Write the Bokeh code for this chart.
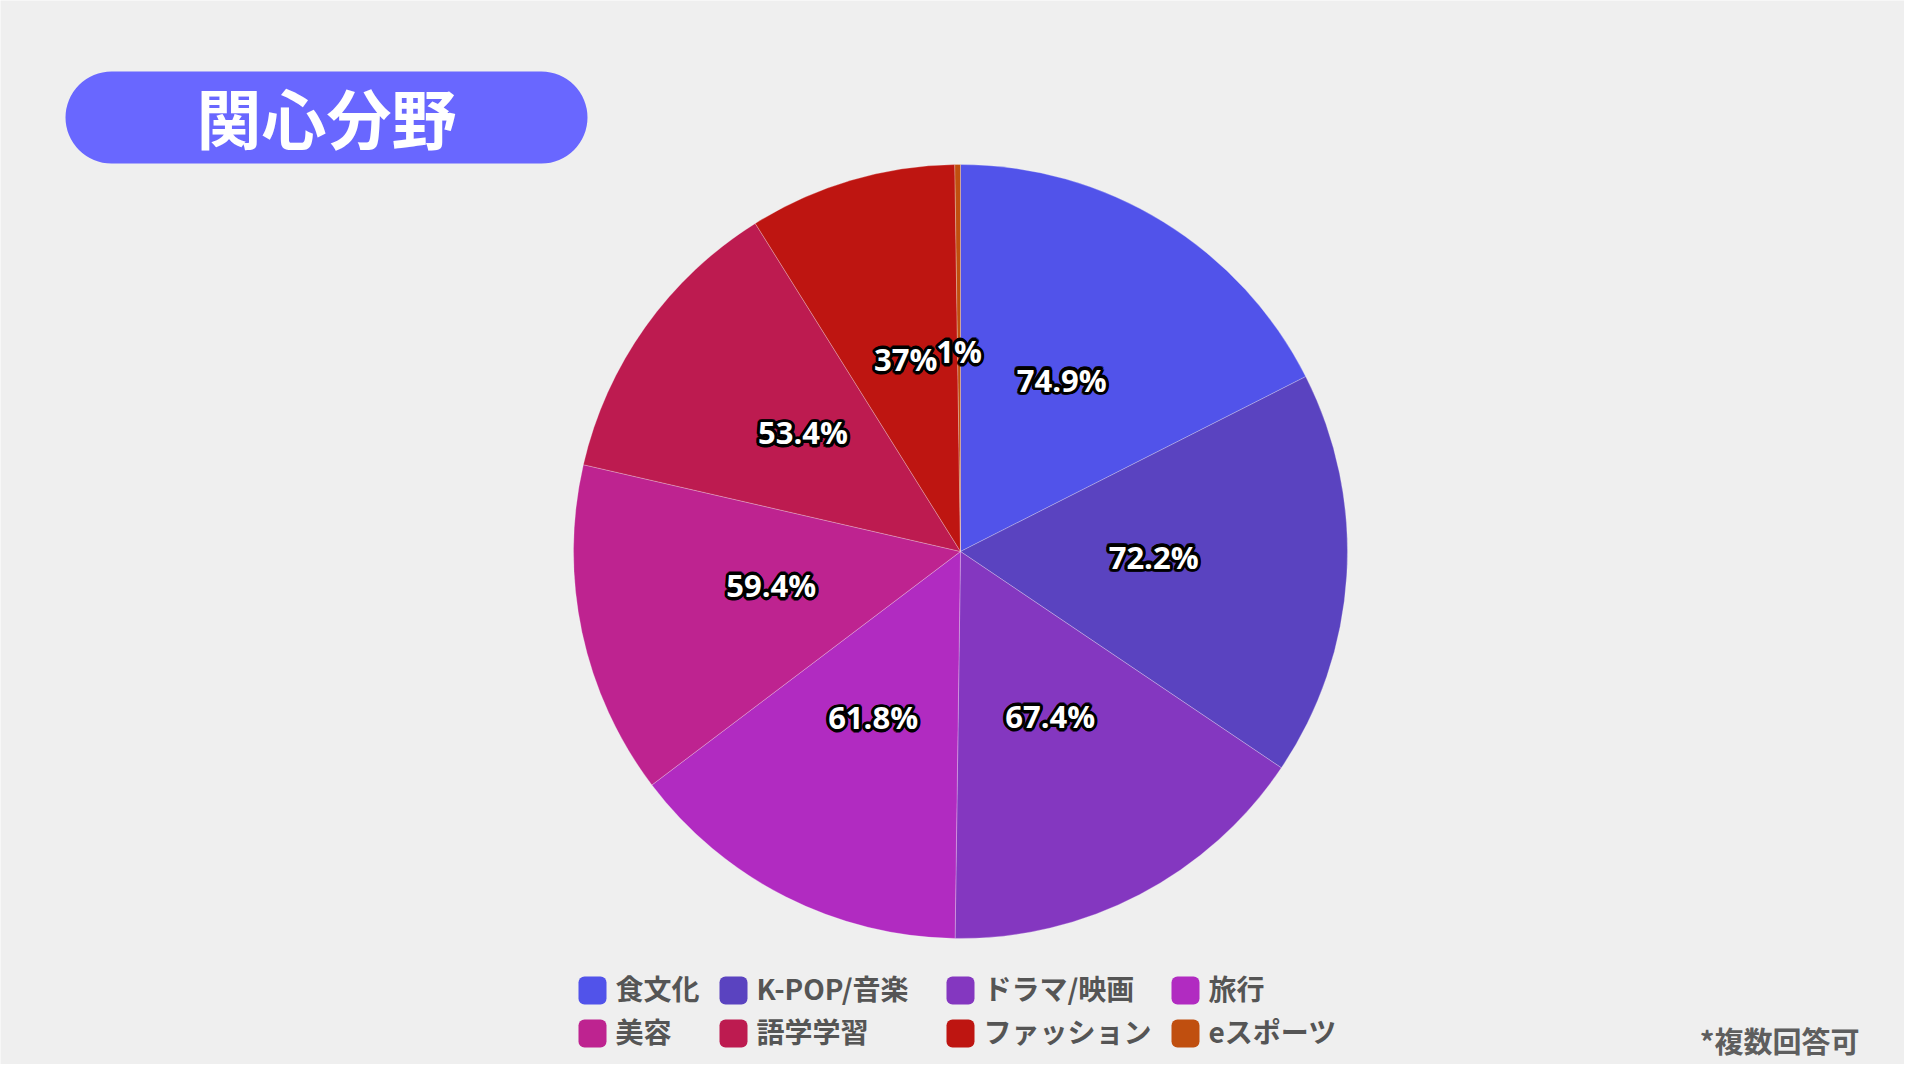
import math
from bokeh.plotting import figure
from bokeh.models import ColumnDataSource, Range1d
from bokeh.core.properties import value
from bokeh.embed import file_html
from bokeh.resources import INLINE

# ---- data ----
categories = ["食文化", "K-POP/音楽", "ドラマ/映画", "旅行", "美容", "語学学習", "ファッション", "eスポーツ"]
percentages = [74.9, 72.2, 67.4, 61.8, 59.4, 53.4, 37, 1]
labels = ["74.9%", "72.2%", "67.4%", "61.8%", "59.4%", "53.4%", "37%", "1%"]
colors = ["#5153ea", "#5a43c0", "#8437c0", "#b12bc1", "#be2390", "#bd1b50", "#be1511", "#c04f0f"]
title_text = "関心分野"
footnote_text = "*複数回答可"

# ---- layout (pixel coordinates) ----
W, H = 1904, 1064
def X(ax):
    return ax
def Y(ay):
    return H - ay

p = figure(width=W, height=H, x_range=Range1d(0, W), y_range=Range1d(0, H),
           output_backend="svg", toolbar_location=None, min_border=0)
p.axis.visible = False
p.grid.visible = False
p.outline_line_color = None
p.background_fill_color = "#efefef"
p.border_fill_color = "#efefef"

# ---- pie ----
cx, cy, R = X(960), Y(551), 387
total = sum(percentages)
starts, ends, lx, ly = [], [], [], []
cum = 0.0
for v in percentages:
    a0 = math.pi / 2 - cum / total * 2 * math.pi
    cum += v
    a1 = math.pi / 2 - cum / total * 2 * math.pi
    starts.append(a0)
    ends.append(a1)
    mid = (a0 + a1) / 2
    lx.append(cx + 0.5 * R * math.cos(mid))
    ly.append(cy + 0.5 * R * math.sin(mid) + 7)

src = ColumnDataSource(dict(start=starts, end=ends, color=colors, lx=lx, ly=ly, label=labels, cat=categories))
p.wedge(x=cx, y=cy, radius=R, start_angle="start", end_angle="end", direction="clock",
        fill_color="color", line_color="white", line_alpha=0.25, line_width=1, source=src)

# black halo behind the labels
lab_font = value("Open Sans")
for k in range(12):
    ang = 2 * math.pi * k / 12
    p.text(x="lx", y="ly", text="label", source=src, text_align="center", text_baseline="middle",
           x_offset=2.6 * math.cos(ang), y_offset=2.6 * math.sin(ang),
           text_color="black", text_outline_color="black", text_font=lab_font,
           text_font_style="bold", text_font_size="31px")
p.text(x="lx", y="ly", text="label", source=src, text_align="center", text_baseline="middle",
       text_color="white", text_font=lab_font,
       text_font_style="bold", text_font_size="31px")

# ---- title pill ----
p.quad(left=X(65), right=X(587), top=Y(71), bottom=Y(163), fill_color="#6967ff",
       line_color=None, border_radius=46)
p.text(x=[X(326)], y=[Y(115)], text=[title_text], text_align="center", text_baseline="middle",
       text_color="white", text_font=value("Noto Sans CJK JP"), text_font_style="bold",
       text_font_size="65px")

# ---- legend ----
col_x = [578, 719, 946, 1171]
row_y = [990, 1033]
sw_l, sw_r, sw_t, sw_b, tx, ty = [], [], [], [], [], []
for i in range(len(categories)):
    c = col_x[i % 4]
    r = row_y[i // 4]
    sw_l.append(X(c)); sw_r.append(X(c + 28))
    sw_t.append(Y(r - 14)); sw_b.append(Y(r + 14))
    tx.append(X(c + 37)); ty.append(Y(r - 3))
lsrc = ColumnDataSource(dict(l=sw_l, r=sw_r, t=sw_t, b=sw_b, tx=tx, ty=ty, color=colors, cat=categories))
p.quad(left="l", right="r", top="t", bottom="b", fill_color="color", line_color=None,
       border_radius=6, source=lsrc)
p.text(x="tx", y="ty", text="cat", source=lsrc, text_align="left", text_baseline="middle",
       text_color="#555555", text_font=value("Noto Sans CJK JP"), text_font_style="bold",
       text_font_size="28px")

# ---- footnote ----
p.text(x=[X(1859)], y=[Y(1039)], text=[footnote_text], text_align="right", text_baseline="middle",
       text_color="#5e5e5e", text_font=value("Noto Sans CJK JP"), text_font_style="bold",
       text_font_size="29px")

open("out.html", "w").write(file_html(p, INLINE))
